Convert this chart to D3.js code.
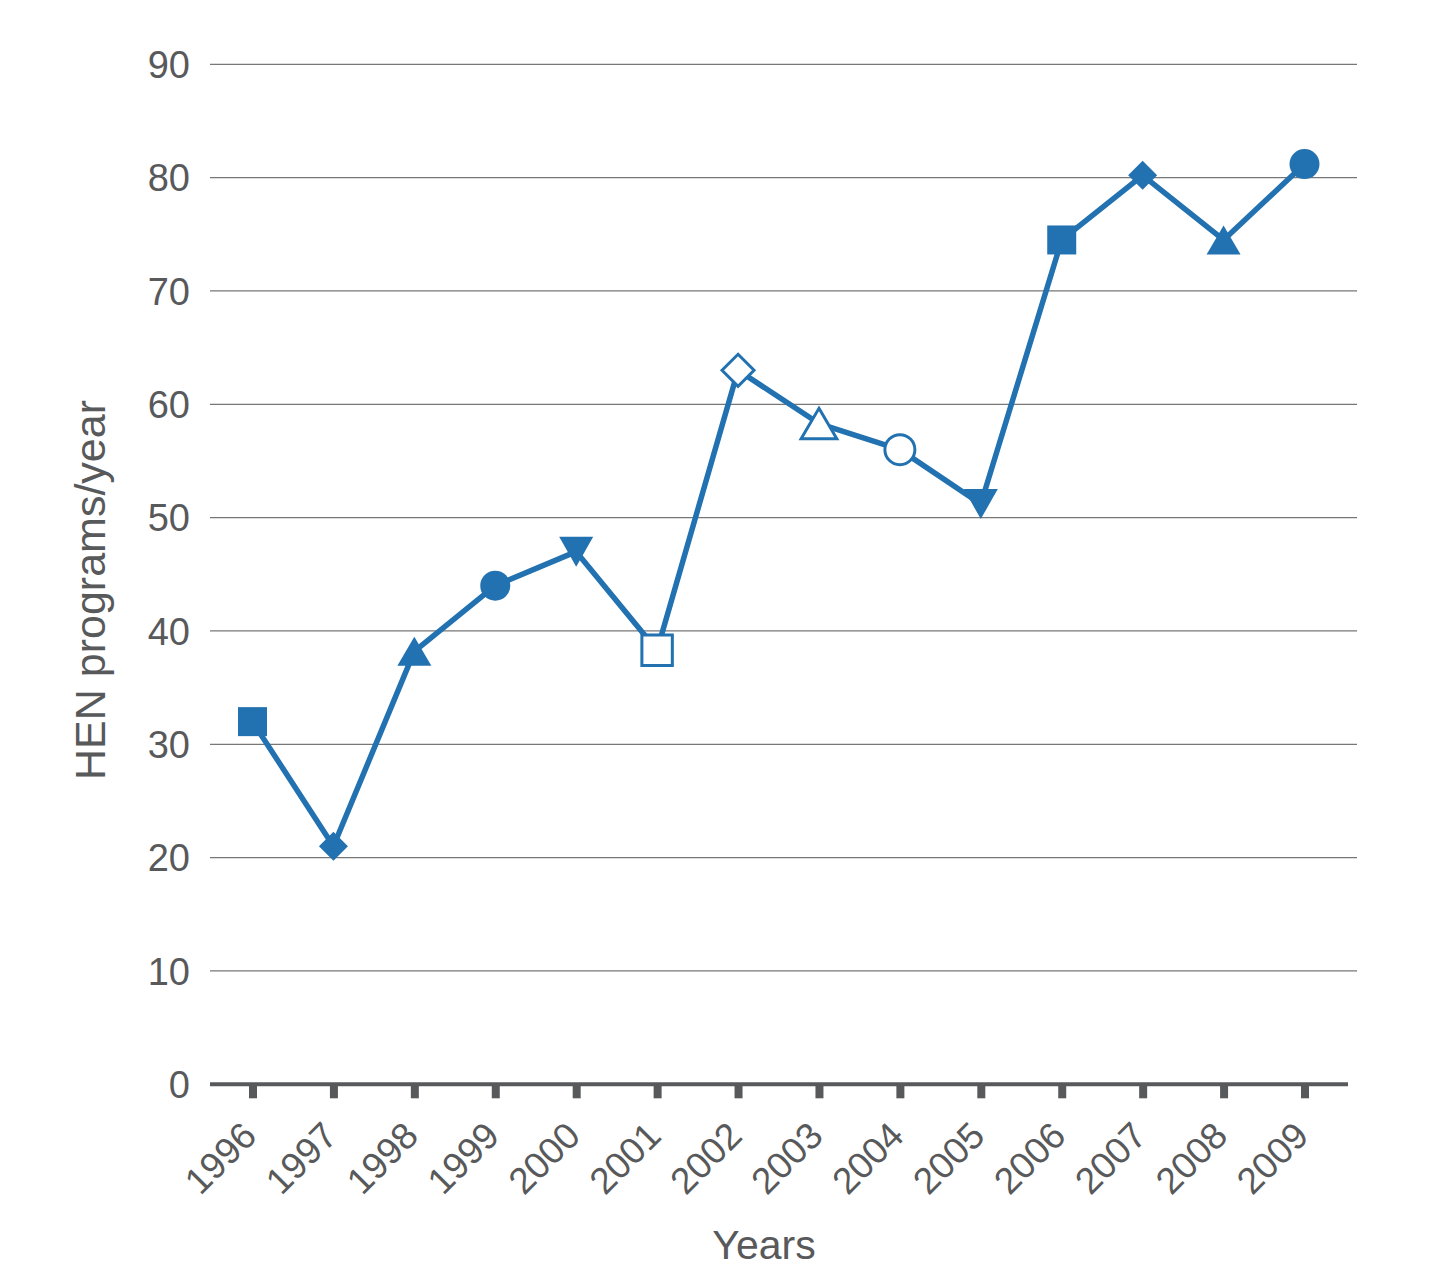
<!doctype html>
<html lang="en">
<head>
<meta charset="utf-8">
<title>HEN programs per year</title>
<style>
  body { margin: 0; background: #fff; }
  text { font-family: "Liberation Sans", Arial, Helvetica, sans-serif; fill: #58595b; }
</style>
</head>
<body>
<div id="chart"></div>
<script src="https://cdnjs.cloudflare.com/ajax/libs/d3/7.8.5/d3.min.js"></script>
<script>
var years = ["1996","1997","1998","1999","2000","2001","2002","2003","2004","2005","2006","2007","2008","2009"];
var programs = [32, 21, 38.2, 44, 47, 38.3, 63, 58.3, 56, 51.2, 74.5, 80.2, 74.5, 81.2];
var markers = ["square","diamond","triangle","circle","triangleDown","square","diamond","triangle","circle","triangleDown","square","diamond","triangle","circle"];
var hollow = [false,false,false,false,false,true,true,true,true,false,false,false,false,false];
var yTicks = [0,10,20,30,40,50,60,70,80,90];

var width = 1431, height = 1284;
var blue = "#2271b1", grey = "#58595b";

var svg = d3.select("#chart").append("svg")
  .attr("width", width)
  .attr("height", height);

var x = d3.scalePoint()
  .domain(years)
  .range([252.5, 1304.5]);

var y = d3.scaleLinear()
  .domain([0, 90])
  .range([1084.3, 64.3]);

// gridlines
svg.selectAll("line.grid").data(yTicks.filter(function(d) { return d > 0; }))
  .enter().append("line")
  .attr("class", "grid")
  .attr("x1", 210).attr("x2", 1357)
  .attr("y1", function(d) { return y(d); })
  .attr("y2", function(d) { return y(d); })
  .attr("stroke", "#777")
  .attr("stroke-width", 1.3);

// y tick labels
svg.selectAll("text.ytick").data(yTicks)
  .enter().append("text")
  .attr("class", "ytick")
  .attr("x", 190)
  .attr("y", function(d) { return y(d); })
  .attr("dy", "0.36em")
  .attr("text-anchor", "end")
  .style("font-size", "38px")
  .text(function(d) { return d; });

// x axis
var xAxis = d3.axisBottom(x).tickSize(14).tickSizeOuter(0).tickFormat("");
var gx = svg.append("g")
  .attr("transform", "translate(0," + y(0) + ")")
  .call(xAxis);
gx.select(".domain").remove();
gx.selectAll(".tick line").attr("stroke", grey).attr("stroke-width", 8);
gx.append("line")
  .attr("x1", 210).attr("x2", 1348)
  .attr("stroke", grey).attr("stroke-width", 4);

svg.selectAll("text.xtick").data(years)
  .enter().append("text")
  .attr("class", "xtick")
  .attr("text-anchor", "end")
  .attr("transform", function(d) { return "translate(" + (x(d) + 6) + ",1138) rotate(-45)"; })
  .style("font-size", "37px")
  .text(function(d) { return d; });

// axis titles
svg.append("text")
  .attr("x", 764).attr("y", 1259)
  .attr("text-anchor", "middle")
  .style("font-size", "41px")
  .text("Years");

svg.append("text")
  .attr("transform", "translate(105,590) rotate(-90)")
  .attr("text-anchor", "middle")
  .style("font-size", "43px")
  .text("HEN programs/year");

// line
var line = d3.line()
  .x(function(d, i) { return x(years[i]); })
  .y(function(d) { return y(d); });

svg.append("path")
  .datum(programs)
  .attr("d", line)
  .attr("fill", "none")
  .attr("stroke", blue)
  .attr("stroke-width", 5.5)
  .attr("stroke-linejoin", "round");

// marker shapes
function markerPath(type, open) {
  var s = open ? 1.05 : 1;
  if (type == "square") { var h = 14.5 * s; return "M" + -h + "," + -h + "H" + h + "V" + h + "H" + -h + "Z"; }
  if (type == "diamond") { var r = (open ? 16 : 14.5); return "M0," + -r + "L" + r + ",0L0," + r + "L" + -r + ",0Z"; }
  if (type == "triangle") { var w = 17 * s, t = 14.5 * s; return "M0," + -t + "L" + w + "," + t + "L" + -w + "," + t + "Z"; }
  if (type == "triangleDown") { var w2 = 17, t2 = 15; return "M0," + t2 + "L" + w2 + "," + -t2 + "L" + -w2 + "," + -t2 + "Z"; }
  var c = 15;
  return "M" + c + ",0A" + c + "," + c + " 0 1,1 " + -c + ",0A" + c + "," + c + " 0 1,1 " + c + ",0Z";
}

svg.selectAll("path.marker").data(programs)
  .enter().append("path")
  .attr("class", "marker")
  .attr("transform", function(d, i) { return "translate(" + x(years[i]) + "," + y(d) + ")"; })
  .attr("d", function(d, i) { return markerPath(markers[i], hollow[i]); })
  .attr("fill", function(d, i) { return hollow[i] ? "#fff" : blue; })
  .attr("stroke", function(d, i) { return hollow[i] ? blue : "none"; })
  .attr("stroke-width", 3);
</script>
</body>
</html>
